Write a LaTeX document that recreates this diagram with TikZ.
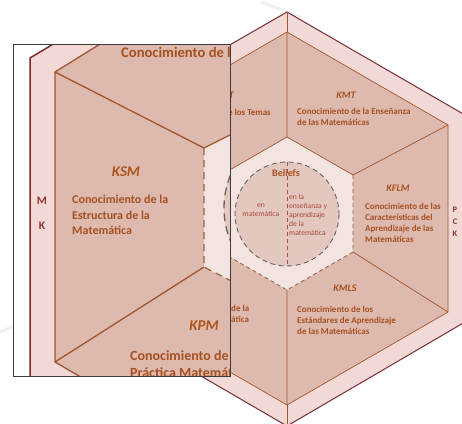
\documentclass[tikz,border=0pt]{standalone}
\usepackage{fontspec}
\setmainfont{Carlito}
\definecolor{band}{RGB}{243,217,214}
\definecolor{region}{RGB}{222,186,174}
\definecolor{innerfill}{RGB}{244,228,225}
\definecolor{belief}{RGB}{228,200,192}
\definecolor{hexline}{RGB}{120,45,55}
\definecolor{regline}{RGB}{158,85,48}
\definecolor{txt}{RGB}{165,80,32}
\definecolor{txtred}{RGB}{170,70,55}
\definecolor{dashgray}{RGB}{105,95,95}
\definecolor{framegray}{RGB}{60,60,60}
\tikzset{
  outerline/.style={draw=hexline, line width=1pt},
  regionline/.style={draw=regline, line width=0.7pt},
  hexdash/.style={draw=regline!80!gray, line width=0.8pt, dash pattern=on 4pt off 3pt},
  circdash/.style={draw=dashgray, line width=0.9pt, dash pattern=on 5pt off 3.5pt},
  lab/.style={text=txt, font=\fontsize{10}{12}\selectfont\bfseries\itshape, inner sep=0pt},
  desc/.style={text=txt, font=\fontsize{9}{11}\selectfont\bfseries, inner sep=0pt, align=left},
  small/.style={text=txtred, font=\fontsize{7.6}{9}\selectfont, inner sep=0pt, align=left},
  biglab/.style={text=txt!90!orange, font=\fontsize{15}{18}\selectfont\bfseries\itshape, inner sep=0pt},
  bigdesc/.style={text=txt, font=\fontsize{12}{15.5}\selectfont\bfseries, inner sep=0pt, align=left},
  hugedesc/.style={text=txt, font=\fontsize{14}{17}\selectfont\bfseries, inner sep=0pt, align=left},
  side/.style={text=hexline!70!txt, font=\fontsize{8.5}{10}\selectfont\bfseries, inner sep=0pt},
  faint/.style={draw=gray!12, line width=3pt, line cap=round}
}
\begin{document}
\begin{tikzpicture}[x=1pt,y=-1pt]
\useasboundingbox (0,0) rectangle (462,423);
\fill[white] (0,0) rectangle (462,423);
% faint background strokes
\draw[faint] (262,2) -- (300,17);
\draw[faint] (0,332) -- (60,306);
% vertices
\coordinate (O1) at (287,12);  \coordinate (O2) at (465,115);
\coordinate (O3) at (465,322); \coordinate (O4) at (287,426);
\coordinate (O5) at (108,322); \coordinate (O6) at (108,115);
\coordinate (I1) at (287,32);  \coordinate (I2) at (448,125);
\coordinate (I3) at (448,312); \coordinate (I4) at (287,405);
\coordinate (I5) at (126,312); \coordinate (I6) at (126,125);
\coordinate (S1) at (287,137); \coordinate (S2) at (353,175);
\coordinate (S3) at (353,252); \coordinate (S4) at (287,290);
\coordinate (S5) at (221,252); \coordinate (S6) at (221,175);
\coordinate (C) at (287,214);
% hexagons
\path[fill=band, outerline] (O1)--(O2)--(O3)--(O4)--(O5)--(O6)--cycle;
\path[fill=region, regionline] (I1)--(I2)--(I3)--(I4)--(I5)--(I6)--cycle;
\draw[regionline] (O1)--(I1) (O4)--(I4);
\fill[innerfill] (S1)--(S2)--(S3)--(S4)--(S5)--(S6)--cycle;
\draw[regionline] (S1)--(I1) (S2)--(I2) (S3)--(I3) (S4)--(I4) (S5)--(I5) (S6)--(I6);
\draw[regionline] (S6)--(S1)--(S2);
\draw[hexdash] (S2)--(S3)--(S4)--(S5)--(S6);
\path[fill=belief, circdash] (C) circle (52);
\draw[hexdash, draw=txtred!80!gray] (287,162) -- (287,266);
% texts main
\node[lab, anchor=east] (kotl) at (234,95) {KoT};
\node[desc, anchor=east] (kott) at (271,112) {Conocimiento de los Temas};
\node[lab] (kmtl) at (346,95) {KMT};
\node[desc, anchor=west] (kmtt) at (297,117) {Conocimiento de la Enseñanza\\de las Matemáticas};
\node[lab] (kflml) at (398,188) {KFLM};
\node[desc, anchor=west] (kflmt) at (365,223) {Conocimiento de las\\Características del\\Aprendizaje de las\\Matemáticas};
\node[lab] (kmlsl) at (345,288) {KMLS};
\node[desc, anchor=west] (kmlst) at (297,320.5) {Conocimiento de los\\Estándares de Aprendizaje\\de las Matemáticas};
\node[desc, anchor=west] (kpmt) at (231,313.5) {de la\\ática};
\node[side] (p) at (455,210) {P};
\node[side] (c) at (455,222) {C};
\node[side] (k) at (455,234) {K};
\node[text=txt, font=\fontsize{10}{12}\selectfont\bfseries, inner sep=0pt] (bel) at (286,173) {Beliefs};
\node[small, align=center] (bm) at (261,210.5) {en\\matemática};
\node[small, anchor=west] (be) at (289,215) {en la\\enseñanza y\\aprendizaje\\de la\\matemática};
% inset
\begin{scope}
\clip (13,44) rectangle (230,376);
\fill[white] (13,44) rectangle (230,376);
\path[fill=band] (30,58) -- (130,-2) -- (300,-2) -- (300,450) -- (30,450) -- cycle;
\draw[draw=hexline, line width=1.5pt] (130,-2) -- (30,58) -- (30,450);
\path[fill=region] (55,72) -- (150,13) -- (300,13) -- (300,400) -- (120,400) -- (55,362) -- cycle;
\draw[draw=regline, line width=1.3pt] (150,13) -- (55,72) -- (55,362) -- (120,400);
\fill[innerfill] (204,148) -- (270,115) -- (270,301) -- (204,267) -- cycle;
\path[fill=belief, circdash, line width=1.3pt, dash pattern=on 8pt off 5pt] (311,208) circle (87);
\draw[draw=regline, line width=1.3pt] (55,72) -- (204,148) -- (270,115);
\draw[draw=regline, line width=1.3pt] (55,362) -- (204,267);
\draw[hexdash, line width=1.2pt, dash pattern=on 7pt off 5pt] (204,148) -- (204,267) -- (270,301);
\node[hugedesc, font=\fontsize{14.6}{17}\selectfont\bfseries, anchor=west] (ikot) at (121,52) {Conocimiento de los Temas};
\node[biglab] (iksm) at (126,172) {KSM};
\node[bigdesc, anchor=west] (iksmt) at (72,215) {Conocimiento de la\\Estructura de la\\Matemática};
\node[text=hexline!70!txt, font=\fontsize{11.5}{13}\selectfont\bfseries, inner sep=0pt] (im) at (42,201) {M};
\node[text=hexline!70!txt, font=\fontsize{11.5}{13}\selectfont\bfseries, inner sep=0pt] (ik) at (42,226) {K};
\node[biglab] (ikpm) at (204,326) {KPM};
\node[hugedesc, anchor=north west] (ikpmt) at (130,350) {Conocimiento de la\\Práctica Matemática};
\end{scope}
\draw[framegray, line width=0.9pt] (13,44) rectangle (230,376);
\end{tikzpicture}
\end{document}
